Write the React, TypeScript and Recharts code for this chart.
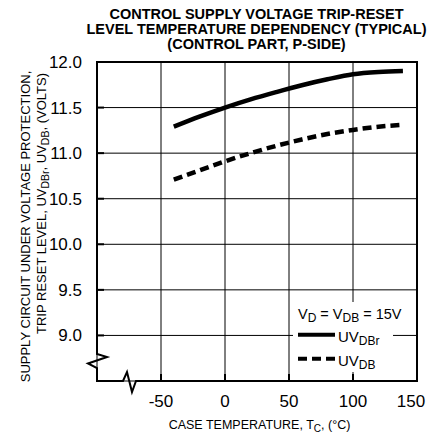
import {
  LineChart,
  Line,
  XAxis,
  YAxis,
  CartesianGrid,
  Legend,
  Customized,
} from "recharts";

// case temperature, deg C
const temps = [-40, -20, 0, 20, 40, 60, 80, 100, 120, 139];
// UVDBr (reset level), volts
const uvDBrValues = [11.29, 11.4, 11.5, 11.59, 11.67, 11.745, 11.81, 11.865, 11.89, 11.9];
// UVDB (trip level), volts
const uvDBValues = [10.71, 10.81, 10.91, 11.0, 11.08, 11.15, 11.21, 11.255, 11.29, 11.31];

const xTicks = [-50, 0, 50, 100, 150];
const yTicks = [9.0, 9.5, 10.0, 10.5, 11.0, 11.5, 12.0];
const legendOrder = ["uvDBr", "uvDB"];
const titleLines = [
  "CONTROL SUPPLY VOLTAGE TRIP-RESET",
  "LEVEL TEMPERATURE DEPENDENCY (TYPICAL)",
  "(CONTROL PART, P-SIDE)",
];

const chartData = temps.map((t, i) => ({ t, uvDBr: uvDBrValues[i], uvDB: uvDBValues[i] }));

const FONT = '"Liberation Sans", Arial, Helvetica, sans-serif';
const W = 448;
const H = 437;
// plot frame
const L = 97;
const T = 62;
const R = 417;
const B = 381;
const X_AXIS_H = 40;

function Frame() {
  const d = [
    `M${L},${B - 27}`,
    `L${L},${T}`,
    `L${R},${T}`,
    `L${R},${B}`,
    `L${L + 39},${B}`,
    `L${L + 35},${B + 11}`,
    `L${L + 30},${B - 9}`,
    `L${L + 26},${B}`,
    `L${L},${B}`,
    `L${L},${B - 13}`,
    `L${L - 9},${B - 17.5}`,
    `L${L + 10},${B - 24}`,
    `Z`,
  ].join(" ");
  return (
    <g fontFamily={FONT} fill="#000">
      <path d={d} fill="none" stroke="#000" strokeWidth={2} strokeLinejoin="miter" />
      {titleLines.map((line, i) => (
        <text key={line} x={256.5} y={18.5 + i * 15} textAnchor="middle" fontSize={14.5} fontWeight="bold">
          {line}
        </text>
      ))}
      <text x={259.5} y={429} textAnchor="middle" fontSize={12.5}>
        CASE TEMPERATURE, T<tspan dy={3} fontSize={10}>C</tspan>
        <tspan dy={-3}>, (°C)</tspan>
      </text>
      <text x={30} y={226.5} transform="rotate(-90, 30, 226.5)" textAnchor="middle" fontSize={13}>
        SUPPLY CIRCUIT UNDER VOLTAGE PROTECTION,
      </text>
      <text x={45.5} y={203.5} transform="rotate(-90, 45.5, 203.5)" textAnchor="middle" fontSize={13}>
        TRIP RESET LEVEL, UV<tspan dy={3} fontSize={10.5}>DBr</tspan>
        <tspan dy={-3}>, UV</tspan>
        <tspan dy={3} fontSize={10.5}>DB</tspan>
        <tspan dy={-3}>, (VOLTS)</tspan>
      </text>
    </g>
  );
}

function XTick(props: any) {
  const { x, y, payload } = props;
  const shift = payload.value === 150 ? -6 : 0;
  return (
    <text x={x + shift} y={y} dy="0.71em" textAnchor="middle" fontSize={17} fontFamily={FONT} fill="#000">
      {payload.value}
    </text>
  );
}

function LegendBox(props: any) {
  const items = [...((props.payload ?? []) as any[])].sort(
    (a, b) => legendOrder.indexOf(a.dataKey) - legendOrder.indexOf(b.dataKey)
  );
  return (
    <svg width={100} height={70} style={{ display: "block", overflow: "visible" }} fontFamily={FONT}>
      <rect width={100} height={70} fill="#fff" />
      <text x={5} y={16.5} fontSize={14.5}>
        V<tspan dy={3} fontSize={12}>D</tspan>
        <tspan dy={-3}> = V</tspan>
        <tspan dy={3} fontSize={12}>DB</tspan>
        <tspan dy={-3}> = 15V</tspan>
      </text>
      {items.map((item, i) => {
        const cy = 32.7 + i * 24;
        const [main, sub] = String(item.value).split("_");
        return (
          <g key={item.value}>
            <line
              x1={5}
              x2={42}
              y1={cy}
              y2={cy}
              stroke="#000"
              strokeWidth={4}
              strokeDasharray={item.payload?.strokeDasharray}
            />
            <text x={45} y={cy + 7.5} fontSize={15}>
              {main}
              <tspan dy={3} fontSize={12}>
                {sub}
              </tspan>
            </text>
          </g>
        );
      })}
    </svg>
  );
}

export default function App() {
  const tickStyle = { fill: "#000", fontSize: 17, fontFamily: FONT };
  return (
    <div style={{ position: "absolute", left: 0, top: 0, width: W, height: H, background: "#fff" }}>
      <LineChart
        width={W}
        height={H}
        data={chartData}
        margin={{ top: T, right: W - R, left: 0, bottom: H - B - X_AXIS_H }}
      >
        <CartesianGrid stroke="#000" strokeWidth={1} />
        <XAxis
          dataKey="t"
          type="number"
          domain={[-100, 150]}
          ticks={xTicks}
          interval={0}
          allowDataOverflow
          height={X_AXIS_H}
          axisLine={false}
          tickLine={{ stroke: "#000", strokeWidth: 2 }}
          tickSize={-7}
          tickMargin={21}
          tick={<XTick />}
        />
        <XAxis
          xAxisId="top"
          orientation="top"
          dataKey="t"
          type="number"
          domain={[-100, 150]}
          ticks={xTicks}
          interval={0}
          allowDataOverflow
          height={0}
          axisLine={false}
          tickLine={{ stroke: "#000", strokeWidth: 2 }}
          tickSize={-7}
          tick={false}
        />
        <YAxis
          type="number"
          domain={[8.5, 12]}
          ticks={yTicks}
          interval={0}
          allowDataOverflow
          width={L}
          axisLine={false}
          tickLine={{ stroke: "#000", strokeWidth: 2 }}
          tickSize={-7}
          tickMargin={22}
          tick={tickStyle}
          tickFormatter={(v: number) => v.toFixed(1)}
        />
        <YAxis
          yAxisId="right"
          orientation="right"
          type="number"
          domain={[8.5, 12]}
          ticks={yTicks}
          interval={0}
          allowDataOverflow
          width={0}
          axisLine={false}
          tickLine={{ stroke: "#000", strokeWidth: 2 }}
          tickSize={-7}
          tick={false}
        />
        <Line
          type="monotone"
          dataKey="uvDBr"
          name="UV_DBr"
          stroke="#000"
          strokeWidth={4.5}
          dot={false}
          activeDot={false}
          isAnimationActive={false}
        />
        <Line
          type="monotone"
          dataKey="uvDB"
          name="UV_DB"
          stroke="#000"
          strokeWidth={4.5}
          strokeDasharray="9 5"
          dot={false}
          activeDot={false}
          isAnimationActive={false}
        />
        <Customized component={<Frame />} />
        <Legend
          layout="horizontal"
          verticalAlign="middle"
          align="center"
          content={<LegendBox />}
          wrapperStyle={{ left: 293, top: 302, width: 100, height: 70, margin: 0, padding: 0 }}
        />
      </LineChart>
    </div>
  );
}
